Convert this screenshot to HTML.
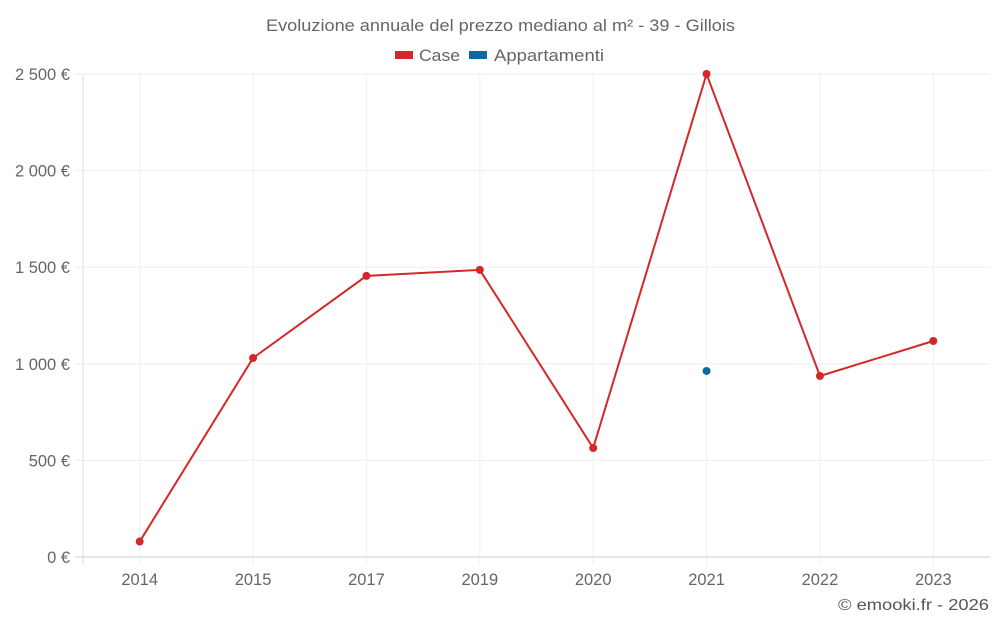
<!DOCTYPE html>
<html><head><meta charset="utf-8"><style>
html,body{margin:0;padding:0;background:#fff;}
svg{display:block;font-family:"Liberation Sans",sans-serif;}
</style></head><body>
<svg id="chart" width="1000" height="625">
<text x="266" y="31" textLength="469" lengthAdjust="spacingAndGlyphs" font-size="17" fill="#666">Evoluzione annuale del prezzo mediano al m² - 39 - Gillois</text>
<g>
<g><rect x="395" y="51" width="18" height="8" fill="#d62728"/><text x="419" y="61" font-size="17" textLength="41" lengthAdjust="spacingAndGlyphs" fill="#666">Case</text></g>
<g><rect x="469" y="51" width="18" height="8" fill="#0b6aa2"/><text x="494" y="61" font-size="17" textLength="110" lengthAdjust="spacingAndGlyphs" fill="#666">Appartamenti</text></g>
</g>
<g id="grid"></g><g id="axes"></g><g id="marks"></g>
<text x="838" y="610" textLength="151" lengthAdjust="spacingAndGlyphs" font-size="16" fill="#555">© emooki.fr - 2026</text>
</svg>
<script>
const categories=["2014","2015","2017","2019","2020","2021","2022","2023"];
const caseValues=[80,1030,1455,1486,564,2500,937,1118];
const apptValues=[null,null,null,null,null,963,null,null];
const yTicks=[0,500,1000,1500,2000,2500];
const yTickLabels=["0 €","500 €","1 000 €","1 500 €","2 000 €","2 500 €"];
const ns="http://www.w3.org/2000/svg";
const L=83,R=990,T=74,B=557,yMax=2500;
const band=(R-L)/categories.length;
const x=i=>L+band*(i+0.5);
const y=v=>B-(v/yMax)*(B-T);
function mk(tag,attrs,parent){const e=document.createElementNS(ns,tag);for(const k in attrs)e.setAttribute(k,attrs[k]);document.getElementById(parent).appendChild(e);return e;}
yTicks.forEach((t,i)=>{
 const g=mk('line',{x1:L-8,x2:R,y1:y(t),y2:y(t),stroke:i==0?'#ccc':'#eee'},'grid');
 
 
 const tx=mk('text',{x:70,y:y(t)+6,'text-anchor':'end','font-size':16.5,fill:'#666'},'axes');
 tx.textContent=yTickLabels[i];
 
 
});
mk('line',{x1:L,x2:L,y1:T,y2:B+8,stroke:'#ddd'},'grid');
categories.forEach((c,i)=>{
 const g=mk('line',{x1:x(i),x2:x(i),y1:T,y2:B+8,stroke:'#eee'},'grid');
 
 
 const tx=mk('text',{x:x(i),y:585,'text-anchor':'middle','font-size':16.5,fill:'#666'},'axes');
 tx.textContent=c;
 
 
});
const pts=caseValues.map((v,i)=>x(i)+','+y(v)).join(' ');
const pl=mk('polyline',{points:pts,fill:'none',stroke:'#d62728','stroke-width':2},'marks');


caseValues.forEach((v,i)=>{
 const c=mk('circle',{cx:x(i),cy:y(v),r:4,fill:'#d62728'},'marks');
 
 
});
apptValues.forEach((v,i)=>{
 if(v==null)return;
 const c=mk('circle',{cx:x(i),cy:y(v),r:4,fill:'#0b6aa2'},'marks');
 
 
});
</script>
</body></html>
